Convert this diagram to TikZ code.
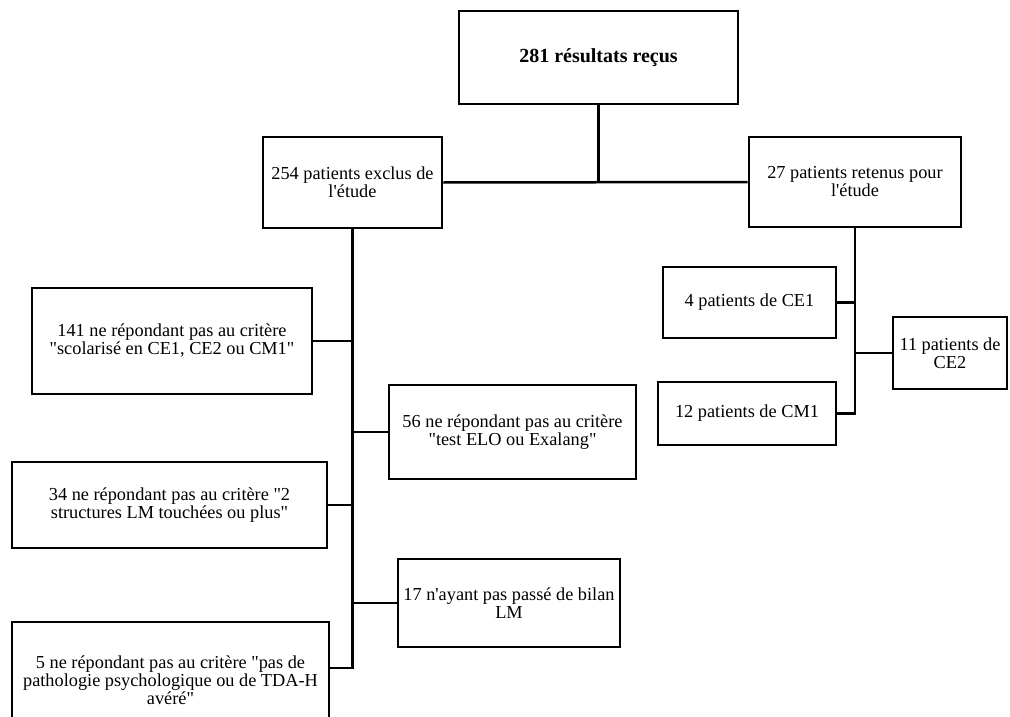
\documentclass[tikz,border=0pt]{standalone}
\usepackage{fontspec}
\setmainfont{Liberation Serif}[Ligatures=TeXOff]
\begin{document}
\begin{tikzpicture}[x=1pt,y=-1pt,
  box/.style={draw, line width=2.6pt, inner sep=0pt, align=center,
    font=\fontsize{18.3}{18}\selectfont},
  conn/.style={line width=2.5pt}]
\useasboundingbox (0,0) rectangle (1010,717);
\clip (0,0) rectangle (1010,717);
\node[box, minimum width=279pt, minimum height=93pt,
  font=\fontsize{20}{20}\selectfont\bfseries] (top) at (598.5,57.5) {281 résultats reçus};
\node[box, minimum width=179pt, minimum height=91pt] (excl) at (352.5,182.5) {254 patients exclus de\\l'étude};
\node[box, minimum width=212pt, minimum height=90pt] (ret) at (855,182) {27 patients retenus pour\\l'étude};
\node[box, minimum width=280pt, minimum height=106pt] (c141) at (172,341) {141 ne répondant pas au critère\\"scolarisé en CE1, CE2 ou CM1"};
\node[box, minimum width=247pt, minimum height=94pt] (c56) at (512.5,432) {56 ne répondant pas au critère\\"test ELO ou Exalang"};
\node[box, minimum width=315pt, minimum height=86pt] (c34) at (169.5,505) {34 ne répondant pas au critère "2\\structures LM touchées ou plus"};
\node[box, minimum width=222pt, minimum height=88pt] (c17) at (509,603) {17 n'ayant pas passé de bilan\\LM};
\node[box, minimum width=317pt, minimum height=116pt] (c5) at (170.5,680) {5 ne répondant pas au critère "pas de\\pathologie psychologique ou de TDA-H\\avéré"};
\node[box, minimum width=173pt, minimum height=71pt] (ce1) at (749.5,302.5) {4 patients de CE1};
\node[box, minimum width=114pt, minimum height=72pt] (ce2) at (950,353) {11 patients de\\CE2};
\node[box, minimum width=178pt, minimum height=63pt] (cm1) at (747,413.5) {12 patients de CM1};
\coordinate (j5) at ([yshift=12pt]c5.east);
% connectors
\draw[conn] (top.south) -- (top.south |- excl.east);
\draw[conn] (excl.east) -- (ret.west);
\draw[conn] (excl.south) |- (j5);
\draw[conn] (c141.east) -- (c141.east -| excl.south);
\draw[conn] (c56.west) -- (c56.west -| excl.south);
\draw[conn] (c34.east) -- (c34.east -| excl.south);
\draw[conn] (c17.west) -- (c17.west -| excl.south);
\draw[conn] (ret.south) |- (cm1.east);
\draw[conn] (ce1.east) -- (ce1.east -| ret.south);
\draw[conn] (ce2.west) -- (ce2.west -| ret.south);
\end{tikzpicture}
\end{document}
